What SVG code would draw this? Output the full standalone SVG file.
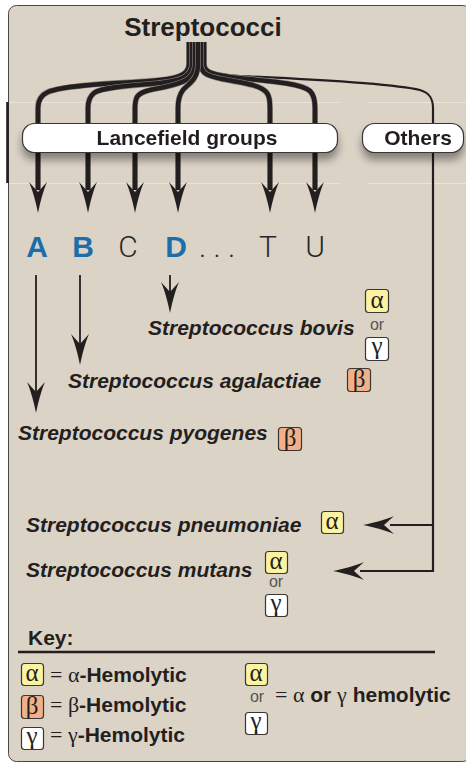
<svg xmlns="http://www.w3.org/2000/svg" xmlns:xlink="http://www.w3.org/1999/xlink" width="466" height="763" viewBox="0 0 466 763">
<style>
.panel{fill:#dcd3c7;stroke:#4a4644;stroke-width:1}
.strandbg{fill:none;stroke:#8f877e;stroke-width:5.8}
.strand{fill:none;stroke:#231f20;stroke-width:4.6}
.thin{fill:none;stroke:#231f20;stroke-width:2.2}
.arr{fill:#231f20}
.box{fill:#fff;stroke:#3a3634;stroke-width:1.2}
.hdr{font-family:"Liberation Sans",Arial,sans-serif;font-weight:bold;fill:#231f20}
.sp{font-family:"Liberation Sans",Arial,sans-serif;font-weight:bold;font-style:italic;font-size:21px;fill:#231f20}
.big{font-family:"Liberation Sans",Arial,sans-serif;font-size:30px;text-anchor:middle}
.blue{font-weight:bold;fill:#1b6ea9}
.light{font-family:Roboto,"Liberation Sans",sans-serif;font-weight:300;fill:#2a2627}
.ba{fill:#fbf3a2;stroke:#3a3634;stroke-width:1.2}
.bb{fill:#f2b08a;stroke:#3a3634;stroke-width:1.2}
.bg{fill:#fff;stroke:#3a3634;stroke-width:1.2}
.gk{font-family:"Liberation Serif","Times New Roman",serif;font-size:25px;text-anchor:middle;fill:#231f20}
.or{font-family:"Liberation Sans",Arial,sans-serif;font-size:16px;text-anchor:middle;fill:#555}
.key{font-family:"Liberation Sans",Arial,sans-serif;font-weight:bold;font-size:21px;fill:#231f20}
.ser{font-family:"Liberation Serif","Times New Roman",serif;font-weight:normal;font-size:22px}
</style>
<defs>
<path id="ah" d="M0,0 C-2,-10 -5,-22 -9,-31 L0,-21 L9,-31 C5,-22 2,-10 0,0 Z"/>
<filter id="sh" x="-10%" y="-40%" width="120%" height="220%">
<feGaussianBlur in="SourceAlpha" stdDeviation="4"/>
<feOffset dx="0" dy="7" result="b"/>
<feComponentTransfer><feFuncA type="linear" slope="0.4"/></feComponentTransfer>
<feMerge><feMergeNode/><feMergeNode in="SourceGraphic"/></feMerge>
</filter>
</defs>
<rect width="466" height="763" fill="#fff"/>
<rect class="panel" x="8.5" y="5.5" width="462" height="756" rx="8"/>
<line x1="7.5" y1="102" x2="7.5" y2="183" stroke="#231f20" stroke-width="2.6"/>
<g stroke="#eee8e0" stroke-width="1" opacity="0.8">
<line x1="9" y1="102.5" x2="340" y2="102.5"/><line x1="368" y1="102.5" x2="466" y2="102.5"/>
<line x1="9" y1="183.5" x2="340" y2="183.5"/><line x1="368" y1="183.5" x2="466" y2="183.5"/>
</g>

<g id="title"><text class="hdr" x="203" y="36" font-size="26" text-anchor="middle">Streptococci</text></g>

<g id="connectors">
<path class="thin" d="M204,64 C206,72 214,74 240,76 C330,80 395,84 420,90 C430,93 433,99 433,108 V571 H360 M433,525 H390"/>
<use href="#ah" class="arr" transform="translate(363,525) rotate(90)"/>
<use href="#ah" class="arr" transform="translate(333,571) rotate(90)"/>
<path class="strandbg" d="M189,42 V64 C189,76 176,79 150,81 C100,84 62,86 48,92 C41,95 38,100 38,108 V190"/>
<path class="strand" d="M189,42 V64 C189,76 176,79 150,81 C100,84 62,86 48,92 C41,95 38,100 38,108 V190"/>
<path class="strandbg" d="M192,42 V64 C192,77 180,81 160,83 C125,86 100,88 94,93 C89,97 88,102 88,108 V190"/>
<path class="strand" d="M192,42 V64 C192,77 180,81 160,83 C125,86 100,88 94,93 C89,97 88,102 88,108 V190"/>
<path class="strandbg" d="M195,42 V64 C195,79 183,83 165,87 C148,90 140,92 137,97 C135,101 135,104 135,108 V190"/>
<path class="strand" d="M195,42 V64 C195,79 183,83 165,87 C148,90 140,92 137,97 C135,101 135,104 135,108 V190"/>
<path class="strandbg" d="M204,42 V64 C204,72 211,74 230,77 C280,82 302,84 310,91 C314,95 315,100 315,108 V190"/>
<path class="strand" d="M204,42 V64 C204,72 211,74 230,77 C280,82 302,84 310,91 C314,95 315,100 315,108 V190"/>
<path class="strandbg" d="M201,42 V64 C201,74 208,76 222,79 C250,84 262,86 267,93 C270,97 270,102 270,108 V190"/>
<path class="strand" d="M201,42 V64 C201,74 208,76 222,79 C250,84 262,86 267,93 C270,97 270,102 270,108 V190"/>
<path class="strandbg" d="M198,42 V64 C198,80 188,84 183,90 C179,95 178,100 178,108 V190"/>
<path class="strand" d="M198,42 V64 C198,80 188,84 183,90 C179,95 178,100 178,108 V190"/>
<g class="arr">
<use href="#ah" x="38" y="213"/><use href="#ah" x="88" y="213"/><use href="#ah" x="135" y="213"/>
<use href="#ah" x="178" y="213"/><use href="#ah" x="270" y="213"/><use href="#ah" x="315" y="213"/>
</g>
<g stroke="#231f20" stroke-width="1.8">
<line x1="36" y1="275" x2="36" y2="395"/><line x1="80" y1="275" x2="80" y2="347"/><line x1="170" y1="275" x2="170" y2="295"/>
</g>
<g class="arr">
<use href="#ah" x="36" y="413"/><use href="#ah" x="80" y="365"/><use href="#ah" x="170" y="313"/>
</g>
</g>

<g id="lancefield" filter="url(#sh)">
<rect class="box" x="22.5" y="123.5" width="315" height="29" rx="12"/>
<text class="hdr" x="187" y="145" font-size="21" text-anchor="middle">Lancefield groups</text>
</g>
<g id="others" filter="url(#sh)">
<rect class="box" x="362.5" y="123.5" width="101" height="29" rx="12"/>
<text class="hdr" x="418" y="145" font-size="21" text-anchor="middle">Others</text>
</g>

<g id="groups">
<text class="big blue" x="37" y="257">A</text>
<text class="big blue" x="83" y="257">B</text>
<text class="big light" x="128" y="257">C</text>
<text class="big blue" x="176" y="257">D</text>
<text class="big light" x="217" y="257">. . .</text>
<text class="big light" x="268" y="257">T</text>
<text class="big light" x="315" y="257">U</text>
</g>

<g id="bovis">
<text class="sp" x="148" y="335">Streptococcus bovis</text>
<rect class="ba" x="365.5" y="289.5" width="23" height="23" rx="3"/><text class="gk" x="377" y="308">α</text>
<text class="or" x="377" y="330">or</text>
<rect class="bg" x="365.5" y="337.5" width="23" height="23" rx="3"/><text class="gk" x="377" y="354">γ</text>
</g>
<g id="agalactiae">
<text class="sp" x="68" y="388">Streptococcus agalactiae</text>
<rect class="bb" x="347.5" y="368.5" width="23" height="23" rx="3"/><text class="gk" x="359" y="387">β</text>
</g>
<g id="pyogenes">
<text class="sp" x="18" y="440">Streptococcus pyogenes</text>
<rect class="bb" x="278.5" y="427.5" width="23" height="23" rx="3"/><text class="gk" x="290" y="446">β</text>
</g>
<g id="pneumoniae">
<text class="sp" x="26" y="532">Streptococcus pneumoniae</text>
<rect class="ba" x="321.5" y="511.5" width="22" height="22" rx="3"/><text class="gk" x="332" y="529">α</text>
</g>
<g id="mutans">
<text class="sp" x="26" y="577">Streptococcus mutans</text>
<rect class="ba" x="265.5" y="551.5" width="22" height="22" rx="3"/><text class="gk" x="276" y="569">α</text>
<text class="or" x="276" y="587">or</text>
<rect class="bg" x="265.5" y="594.5" width="22" height="22" rx="3"/><text class="gk" x="276" y="611">γ</text>
</g>

<g id="key">
<text class="key" x="28" y="645">Key:</text>
<line x1="18" y1="652" x2="435" y2="652" stroke="#231f20" stroke-width="2.5"/>
<rect class="ba" x="21.5" y="663.5" width="22" height="22" rx="3"/><text class="gk" x="32" y="681">α</text>
<text class="key" x="50" y="682"><tspan class="ser">= α</tspan>-Hemolytic</text>
<rect class="bb" x="21.5" y="695.5" width="22" height="23" rx="3"/><text class="gk" x="32" y="714">β</text>
<text class="key" x="50" y="712"><tspan class="ser">= β</tspan>-Hemolytic</text>
<rect class="bg" x="21.5" y="727.5" width="22" height="22" rx="3"/><text class="gk" x="32" y="744">γ</text>
<text class="key" x="50" y="742"><tspan class="ser">= γ</tspan>-Hemolytic</text>
<rect class="ba" x="245.5" y="663.5" width="22" height="22" rx="3"/><text class="gk" x="256" y="681">α</text>
<text class="or" x="257" y="702">or</text>
<rect class="bg" x="245.5" y="712.5" width="22" height="22" rx="3"/><text class="gk" x="256" y="729">γ</text>
<text class="key" x="275" y="702"><tspan class="ser">= α</tspan> or <tspan class="ser">γ</tspan> hemolytic</text>
</g>
</svg>
